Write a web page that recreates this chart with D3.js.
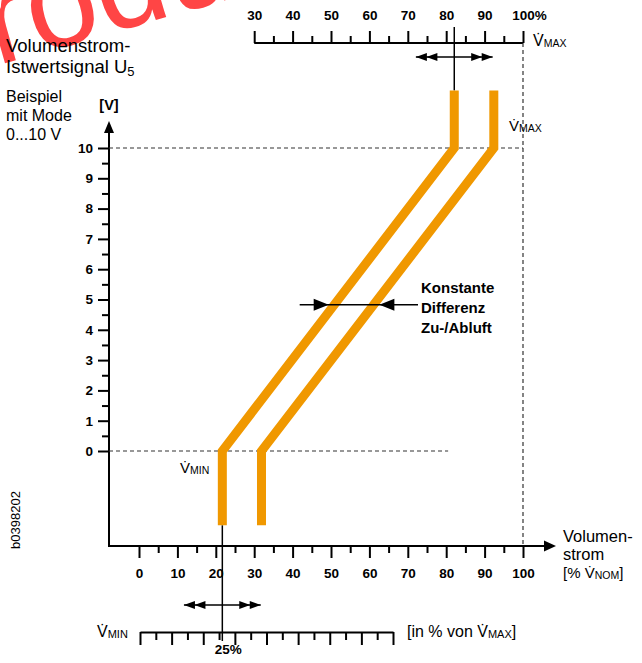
<!DOCTYPE html>
<html>
<head>
<meta charset="utf-8">
<script src="https://cdn.jsdelivr.net/npm/d3@7/dist/d3.min.js"></script>
<style>
    body { margin: 0; background: #fff; }
    svg { font-family: "Liberation Sans", Arial, Helvetica, sans-serif; }
    .bold { font-weight: bold; }
</style>
</head>
<body>
<div id="chartDiv"></div>
<script>

// Nominal volume flow axis [% V_NOM]
const nomTicks = [0, 10, 20, 30, 40, 50, 60, 70, 80, 90, 100];
const nomMinorTicks = [5, 15, 25, 35, 45, 55, 65, 75, 85, 95];

// Signal axis [V]
const voltTicks = [0, 1, 2, 3, 4, 5, 6, 7, 8, 9, 10];
const voltMinorTicks = [0.5, 1.5, 2.5, 3.5, 4.5, 5.5, 6.5, 7.5, 8.5, 9.5];

// V_MAX scale on top
const vmaxTicks = [30, 40, 50, 60, 70, 80, 90, 100];
const vmaxMinorTicks = [35, 45, 55, 65, 75, 85, 95];

// V_MIN ruler at the bottom [in % von V_MAX]
const vminMajorTicks = [0, 10, 20, 30, 40, 50, 60, 70, 80];
const vminMinorTicks = [5, 15, 25, 35, 45, 55, 65, 75];

// Characteristic lines, points as [% V_NOM, V]
const zuluftLine = [[21.7, -2.45], [21.7, 0], [82.1, 10], [82.1, 11.9]];
const abluftLine = [[31.9, -2.45], [31.9, 0], [92.4, 10], [92.4, 11.9]];

// Set points and adjustment range
const vmaxSetting = 82.1;
const vminSetting = 21.7;
const vminLabel = "25%";
const adjustRange = 10;
const differenceVolt = 4.83;

class VolumeFlowChart {
    constructor(parentElement) {
        this.parentElement = parentElement;
        this.initVis();
    }

    initVis() {
        let vis = this;

        vis.width = 642;
        vis.height = 663;
        vis.orange = "#f09800";

        vis.svg = d3.select("#" + vis.parentElement).append("svg")
            .attr("width", vis.width)
            .attr("height", vis.height);

        //Scales
        vis.x = d3.scaleLinear().domain([0, 100]).range([139, 523]);
        vis.y = d3.scaleLinear().domain([0, 10]).range([451, 148]);
        vis.xTop = d3.scaleLinear().domain([30, 100]).range([vis.x(30), vis.x(100)]);
        vis.ruler = d3.scaleLinear().domain([0, 80]).range([140, 393]);

        //Axis positions
        vis.originX = 109;
        vis.originY = 546;
        vis.topAxisY = 43;
        vis.rulerY = 632;

        vis.drawWatermark();
        vis.drawAxes();
        vis.drawLines();
        vis.drawLabels();
    }

    drawWatermark() {
        let vis = this;
        vis.svg.append("text")
            .attr("transform", "translate(72,44) rotate(-16)")
            .attr("x", -164)
            .attr("font-size", 128)
            .attr("fill", "#ff4545")
            .text("Produkt");
    }

    styleAxis(g, fontSize) {
        g.attr("font-family", null).attr("font-size", null);
        g.selectAll(".tick line").attr("stroke", "#000").attr("stroke-width", 2);
        g.selectAll(".tick text")
            .attr("class", "bold")
            .attr("fill", "#000")
            .style("font-size", fontSize + "px");
    }

    arrowHead(x, y, dir, len, half) {
        // dir: "left", "right", "up"
        if (dir === "right") return `M${x},${y}L${x - len},${y - half}L${x - len},${y + half}Z`;
        if (dir === "left") return `M${x},${y}L${x + len},${y - half}L${x + len},${y + half}Z`;
        return `M${x},${y}L${x - half},${y + len}L${x + half},${y + len}Z`;
    }

    drawAxes() {
        let vis = this;

        //Main axes frame
        vis.svg.append("path")
            .attr("d", `M${vis.originX},130L${vis.originX},${vis.originY}L546,${vis.originY}`)
            .attr("fill", "none")
            .attr("stroke", "#000")
            .attr("stroke-width", 2);
        vis.svg.append("path").attr("d", vis.arrowHead(vis.originX, 121, "up", 12, 5));
        vis.svg.append("path").attr("d", vis.arrowHead(556, vis.originY, "right", 12, 5.5));

        //Bottom axis
        let xAxis = d3.axisBottom(vis.x).tickValues(nomTicks).tickSize(12).tickPadding(10);
        let gx = vis.svg.append("g").attr("transform", `translate(0,${vis.originY})`).call(xAxis);
        gx.select(".domain").remove();
        vis.styleAxis(gx, 13.5);

        let gxm = vis.svg.append("g").attr("transform", `translate(0,${vis.originY})`)
            .call(d3.axisBottom(vis.x).tickValues(nomMinorTicks).tickSize(7).tickFormat(""));
        gxm.select(".domain").remove();
        vis.styleAxis(gxm, 13.5);

        //Left axis
        let gy = vis.svg.append("g").attr("transform", `translate(${vis.originX},0)`)
            .call(d3.axisLeft(vis.y).tickValues(voltTicks).tickSize(11).tickPadding(5));
        gy.select(".domain").remove();
        vis.styleAxis(gy, 13.5);

        let gym = vis.svg.append("g").attr("transform", `translate(${vis.originX},0)`)
            .call(d3.axisLeft(vis.y).tickValues(voltMinorTicks).tickSize(7).tickFormat(""));
        gym.select(".domain").remove();
        vis.styleAxis(gym, 13.5);

        //Top V_MAX scale
        let gt = vis.svg.append("g").attr("transform", `translate(0,${vis.topAxisY})`)
            .call(d3.axisTop(vis.xTop).tickValues(vmaxTicks).tickSize(12).tickSizeOuter(0).tickPadding(11)
                .tickFormat(d => d === 100 ? "100%" : d));
        gt.select(".domain").attr("stroke", "#000").attr("stroke-width", 2).attr("d", `M${vis.x(30)},0H${vis.x(100)}`);
        vis.styleAxis(gt, 13.5);
        gt.selectAll(".tick text").filter(d => d === 100).attr("dx", 6);

        let gtm = vis.svg.append("g").attr("transform", `translate(0,${vis.topAxisY})`)
            .call(d3.axisTop(vis.xTop).tickValues(vmaxMinorTicks).tickSize(7).tickFormat(""));
        gtm.select(".domain").remove();
        vis.styleAxis(gtm, 13.5);

        //Bottom V_MIN ruler
        let gr = vis.svg.append("g").attr("transform", `translate(0,${vis.rulerY})`)
            .call(d3.axisBottom(vis.ruler).tickValues(vminMajorTicks).tickSize(13).tickSizeOuter(0).tickFormat(""));
        gr.select(".domain").attr("stroke", "#000").attr("stroke-width", 2);
        vis.styleAxis(gr, 13.5);

        let grm = vis.svg.append("g").attr("transform", `translate(0,${vis.rulerY})`)
            .call(d3.axisBottom(vis.ruler).tickValues(vminMinorTicks).tickSize(8).tickFormat(""));
        grm.select(".domain").remove();
        vis.styleAxis(grm, 13.5);

        //Dashed guide lines
        let dashed = vis.svg.append("g")
            .attr("stroke", "#333")
            .attr("stroke-width", 1.2)
            .attr("stroke-dasharray", "4,3");
        dashed.append("line")
            .attr("x1", vis.originX).attr("x2", vis.x(100))
            .attr("y1", vis.y(10)).attr("y2", vis.y(10));
        dashed.append("line")
            .attr("x1", vis.originX).attr("x2", vis.x(80.5))
            .attr("y1", vis.y(0)).attr("y2", vis.y(0));
        dashed.append("line")
            .attr("x1", vis.x(100)).attr("x2", vis.x(100))
            .attr("y1", vis.topAxisY).attr("y2", vis.originY);
    }

    doubleArrow(cx, y) {
        let vis = this;
        let left = vis.x(cx - adjustRange);
        let right = vis.x(cx + adjustRange);
        let g = vis.svg.append("g");
        g.append("line")
            .attr("x1", left).attr("x2", right)
            .attr("y1", y).attr("y2", y)
            .attr("stroke", "#000").attr("stroke-width", 1.5);
        [0, 10.5].forEach(off => {
            g.append("path").attr("d", vis.arrowHead(left + off, y, "left", 11, 4));
            g.append("path").attr("d", vis.arrowHead(right - off, y, "right", 11, 4));
        });
    }

    drawLines() {
        let vis = this;

        let line = d3.line().x(d => vis.x(d[0])).y(d => vis.y(d[1]));

        //Set point indicators
        vis.svg.append("line")
            .attr("x1", vis.x(vmaxSetting)).attr("x2", vis.x(vmaxSetting))
            .attr("y1", 27).attr("y2", vis.y(zuluftLine[3][1]))
            .attr("stroke", "#000").attr("stroke-width", 1.5);
        vis.svg.append("line")
            .attr("x1", vis.x(vminSetting)).attr("x2", vis.x(vminSetting))
            .attr("y1", vis.y(zuluftLine[0][1])).attr("y2", 641)
            .attr("stroke", "#000").attr("stroke-width", 1.5);

        vis.doubleArrow(vmaxSetting, 57);
        vis.doubleArrow(vminSetting, 605);

        //Orange characteristic lines
        vis.svg.selectAll(".char-line")
            .data([zuluftLine, abluftLine])
            .enter()
            .append("path")
            .attr("class", "char-line")
            .attr("d", line)
            .attr("fill", "none")
            .attr("stroke", vis.orange)
            .attr("stroke-width", 9)
            .attr("stroke-linejoin", "miter");

        //Constant difference marker
        let yd = vis.y(differenceVolt);
        let edge = (pts, side) => {
            let xa = vis.x(pts[1][0]), xb = vis.x(pts[2][0]);
            let ya = vis.y(pts[1][1]), yb = vis.y(pts[2][1]);
            let xm = xa + (xb - xa) * (yd - ya) / (yb - ya);
            let half = 4.5 * Math.sqrt(1 + Math.pow((xb - xa) / (yb - ya), 2));
            return xm + side * half;
        };
        let tipLeft = edge(zuluftLine, -1);
        let tipRight = edge(abluftLine, 1);
        vis.svg.append("line")
            .attr("x1", tipLeft - 29).attr("x2", 418)
            .attr("y1", yd).attr("y2", yd)
            .attr("stroke", "#000").attr("stroke-width", 1.5);
        vis.svg.append("path").attr("d", vis.arrowHead(tipLeft, yd, "right", 15, 6));
        vis.svg.append("path").attr("d", vis.arrowHead(tipRight, yd, "left", 15, 6));
    }

    vdot(x, y, sub, size, subSize, anchor) {
        let vis = this;
        let t = vis.svg.append("text")
            .attr("x", x).attr("y", y)
            .attr("font-size", size)
            .attr("text-anchor", anchor || "start");
        t.append("tspan").text("V\u0307");
        t.append("tspan").attr("font-size", subSize).attr("dy", 1).text(sub);
        return t;
    }

    drawLabels() {
        let vis = this;

        //Title on the left
        let title = vis.svg.append("text").attr("x", 6).attr("y", 52).attr("font-size", 18.5);
        title.text("Volumenstrom-");
        let title2 = vis.svg.append("text").attr("x", 6).attr("y", 73).attr("font-size", 18.5);
        title2.append("tspan").text("Istwertsignal U");
        title2.append("tspan").attr("font-size", 13).attr("dy", 3).text("5");

        ["Beispiel", "mit Mode", "0...10 V"].forEach((s, i) => {
            vis.svg.append("text")
                .attr("x", 6).attr("y", 102 + i * 19)
                .attr("font-size", 16)
                .text(s);
        });

        vis.svg.append("text")
            .attr("class", "bold")
            .attr("x", vis.originX).attr("y", 110)
            .attr("text-anchor", "middle")
            .attr("font-size", 14.5)
            .text("[V]");

        //V labels
        vis.vdot(533, 46, "MAX", 16, 10.5);
        vis.vdot(509, 131, "MAX", 15, 10.5);
        vis.vdot(180, 473, "MIN", 15, 10.5);
        vis.vdot(97, 637, "MIN", 16, 11);

        let inPct = vis.svg.append("text").attr("x", 407).attr("y", 637).attr("font-size", 16);
        inPct.append("tspan").text("[in % von V\u0307");
        inPct.append("tspan").attr("font-size", 11).attr("dy", 1).text("MAX");
        inPct.append("tspan").attr("dy", -1).text("]");

        //Axis name on the right
        vis.svg.append("text").attr("x", 563).attr("y", 542).attr("font-size", 16.5).text("Volumen-");
        vis.svg.append("text").attr("x", 563).attr("y", 560).attr("font-size", 16.5).text("strom");
        let nom = vis.svg.append("text").attr("x", 563).attr("y", 578).attr("font-size", 15);
        nom.append("tspan").text("[% V\u0307");
        nom.append("tspan").attr("font-size", 10.5).attr("dy", 1).text("NOM");
        nom.append("tspan").attr("dy", -1).text("]");

        //V_MIN percentage
        vis.svg.append("text")
            .attr("class", "bold")
            .attr("x", vis.x(vminSetting) + 6).attr("y", 654)
            .attr("text-anchor", "middle")
            .attr("font-size", 13.5)
            .text(vminLabel);

        //Constant difference text
        ["Konstante", "Differenz", "Zu-/Abluft"].forEach((s, i) => {
            vis.svg.append("text")
                .attr("class", "bold")
                .attr("x", 421).attr("y", 293 + i * 20)
                .attr("font-size", 15)
                .text(s);
        });

        //Drawing number
        vis.svg.append("text")
            .attr("transform", "translate(20,520) rotate(-90)")
            .attr("text-anchor", "middle")
            .attr("font-size", 13)
            .text("b0398202");
    }
}

new VolumeFlowChart("chartDiv");
</script>
</body>
</html>
